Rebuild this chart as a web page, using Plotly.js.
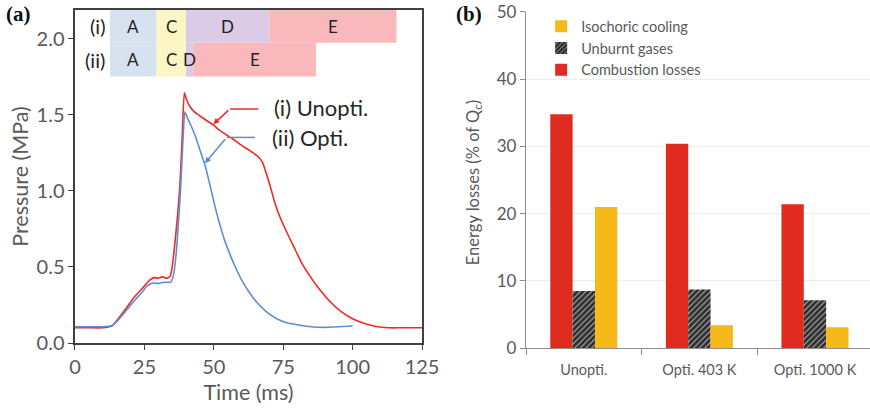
<!DOCTYPE html>
<html><head><meta charset="utf-8">
<script src="https://cdn.plot.ly/plotly-3.0.1.min.js"></script>
<style>html,body{margin:0;padding:0;background:#fff}#chart{width:870px;height:408px}</style>
</head><body><div id="chart"></div>
<script>
// ---- Panel (a): pressure traces ----
const timeUnopti = [0,5,10,12,13.5,16,18.5,21,24,27,28.5,30,31.5,33,34.3,35,36,37,37.8,38.6,39.4,40.2,41.4,43,44.5,46.2,48,49.8,52,54.6,57,60,63,66,67.5,69,70.5,72,74,76.5,79,82,85,88,92,96,100,104,108,113,118,125];
const pressureUnopti = [0.10,0.10,0.10,0.105,0.115,0.17,0.23,0.295,0.355,0.415,0.43,0.427,0.435,0.425,0.44,0.50,0.66,0.85,1.04,1.35,1.645,1.60,1.555,1.52,1.50,1.478,1.455,1.434,1.40,1.368,1.34,1.30,1.265,1.225,1.19,1.11,1.02,0.92,0.82,0.72,0.625,0.515,0.43,0.355,0.27,0.205,0.16,0.13,0.11,0.10,0.10,0.10];
const timeOpti = [0,5,10,12,13.5,16,18.5,21,24,26,28,30,32,34.5,35.5,36.5,37.3,38.1,38.8,39.6,40.5,41.4,43.2,45,46.8,48.6,50,52,54,56,58,60,62.5,65.4,69,72.7,76,80,85,89.4,95,100];
const pressureOpti = [0.107,0.107,0.107,0.11,0.115,0.16,0.215,0.27,0.33,0.375,0.395,0.392,0.40,0.40,0.45,0.60,0.80,1.04,1.30,1.52,1.48,1.445,1.368,1.27,1.17,1.04,0.93,0.79,0.67,0.575,0.49,0.415,0.34,0.27,0.205,0.16,0.135,0.12,0.107,0.103,0.107,0.112];
const phaseNames = ['A','C','D','E'];
const phaseEdgesUnopti = [12.6,29.4,40.0,70.0,115.8];
const phaseEdgesOpti = [12.6,29.4,40.0,42.6,86.8];
const phaseColors = ['#d7e2f0','#fcf6c4','#dccbe7','#f9b9bc'];
const rowLabels = ['(i)','(ii)'];
const curveLabels = ['(i) Unopti.','(ii) Opti.'];

// ---- Panel (b): energy losses ----
const barCategories = ['Unopti.','Opti. 403 K','Opti. 1000 K'];
const combustionLosses = [34.8,30.4,21.4];
const unburntGases = [8.5,8.7,7.1];
const isochoricCooling = [21.0,3.4,3.1];

const RED='#ee2a26', BLUE='#5b8fd2';
const GRAY='#595959';
const FONT='Lato, "Open Sans", sans-serif';

const traces = [
  {x: timeUnopti, y: pressureUnopti, type:'scatter', mode:'lines', line:{color:RED,width:1.6,shape:'spline',smoothing:0.5}, xaxis:'x', yaxis:'y', showlegend:false, hoverinfo:'skip'},
  {x: timeOpti, y: pressureOpti, type:'scatter', mode:'lines', line:{color:BLUE,width:1.6,shape:'spline',smoothing:0.5}, xaxis:'x', yaxis:'y', showlegend:false, hoverinfo:'skip'},
  {x: barCategories, y: combustionLosses, type:'bar', name:'Combustion losses', marker:{color:'#e02b20', line:{width:0}}, xaxis:'x2', yaxis:'y2'},
  {x: barCategories, y: unburntGases, type:'bar', name:'Unburnt gases', marker:{color:'#2e2e2e', line:{width:0}, pattern:{shape:'/', bgcolor:'#2e2e2e', fgcolor:'#b8b8b8', size:4, solidity:0.25}}, xaxis:'x2', yaxis:'y2'},
  {x: barCategories, y: isochoricCooling, type:'bar', name:'Isochoric cooling', marker:{color:'#f6b91a', line:{width:0}}, xaxis:'x2', yaxis:'y2'}
];

const shapes = [];
const annotations = [];
const rows = [
  {edges: phaseEdgesUnopti, y0:1.974, y1:2.19, yc:2.082},
  {edges: phaseEdgesOpti, y0:1.752, y1:1.974, yc:1.862}
];
rows.forEach((r, ri) => {
  phaseNames.forEach((p, i) => {
    shapes.push({type:'rect', xref:'x', yref:'y', x0:r.edges[i], x1:r.edges[i+1], y0:r.y0, y1:r.y1, fillcolor:phaseColors[i], line:{width:0}, layer:'below'});
    annotations.push({xref:'x', yref:'y', x:(r.edges[i]+r.edges[i+1])/2, y:r.yc, text:p, showarrow:false, font:{family:FONT,size:17,color:'#222'}});
  });
  annotations.push({xref:'x', yref:'y', x:r.edges[0]-1.0, y:r.yc, xanchor:'right', text:rowLabels[ri], showarrow:false, font:{family:FONT,size:20,color:'#222'}});
});

// leader lines for curve labels
shapes.push({type:'line', xref:'x', yref:'y', x0:66.0, x1:55.8, y0:1.539, y1:1.539, line:{color:RED,width:1.5}});
shapes.push({type:'line', xref:'x', yref:'y', x0:64.8, x1:54.6, y0:1.352, y1:1.352, line:{color:BLUE,width:1.5}});
annotations.push({xref:'x', yref:'y', axref:'x', ayref:'y', x:49.8, y:1.439, ax:55.8, ay:1.539, text:'', showarrow:true, arrowhead:2, arrowsize:0.8, arrowwidth:1.5, arrowcolor:RED});
annotations.push({xref:'x', yref:'y', axref:'x', ayref:'y', x:46.8, y:1.182, ax:54.6, ay:1.352, text:'', showarrow:true, arrowhead:2, arrowsize:0.8, arrowwidth:1.5, arrowcolor:BLUE});
annotations.push({xref:'x', yref:'y', x:70.9, y:1.546, xanchor:'left', text:curveLabels[0], showarrow:false, font:{family:FONT,size:22,color:'#262626'}});
annotations.push({xref:'x', yref:'y', x:70.2, y:1.352, xanchor:'left', text:curveLabels[1], showarrow:false, font:{family:FONT,size:22,color:'#262626'}});

// right panel y title
annotations.push({xref:'paper', yref:'paper', x:0.5437, y:0.551, textangle:-90, text:'Energy losses (% of Q<sub>c</sub>)', showarrow:false, font:{family:FONT,size:16.5,color:GRAY}});

// panel letters
annotations.push({xref:'paper', yref:'paper', x:0.005, y:1.0, xanchor:'left', yanchor:'top', text:'<b>(a)</b>', showarrow:false, font:{family:'"Liberation Serif", "DejaVu Serif", serif', size:21, color:'#111'}});
annotations.push({xref:'paper', yref:'paper', x:0.522, y:1.0, xanchor:'left', yanchor:'top', text:'<b>(b)</b>', showarrow:false, font:{family:'"Liberation Serif", "DejaVu Serif", serif', size:21, color:'#111'}});

const layout = {
  width:870, height:408,
  margin:{l:0,r:0,t:0,b:0},
  paper_bgcolor:'#fff', plot_bgcolor:'rgba(0,0,0,0)',
  font:{family:FONT, color:GRAY},
  barmode:'group', bargap:0.42, bargroupgap:0,
  xaxis:{domain:[0.0862,0.4851], range:[0,125], tickvals:[0,25,50,75,100,125], ticks:'outside', ticklen:5, tickcolor:'#404040', showline:true, linecolor:'#404040', linewidth:1.5, mirror:true, showgrid:false, zeroline:false, tickfont:{size:20,color:GRAY},
         title:{text:'Time (ms)', font:{size:21.5,color:GRAY}, standoff:8}},
  yaxis:{domain:[0.1593,0.9755], range:[0,2.19], tickvals:[0,0.5,1,1.5,2], ticktext:['0.0','0.5','1.0','1.5','2.0'], ticks:'outside', ticklen:5, tickcolor:'#404040', showline:true, linecolor:'#404040', linewidth:1.5, mirror:true, showgrid:false, zeroline:false, tickfont:{size:20,color:GRAY},
         title:{text:'Pressure (MPa)', font:{size:21.5,color:GRAY}, standoff:2}},
  xaxis2:{domain:[0.6046,1.0], type:'category', range:[-0.5,2.476], tickson:'boundaries', ticks:'outside', ticklen:6, tickcolor:'#8c8c8c', showline:true, linecolor:'#8c8c8c', linewidth:1.2, showgrid:false, zeroline:false, tickfont:{size:14.5,color:GRAY}, ticklabelstandoff:8, anchor:'y2'},
  yaxis2:{domain:[0.147,0.9706], range:[0,50], tickvals:[0,10,20,30,40,50], ticks:'outside', ticklen:5, tickcolor:'#8c8c8c', showline:true, linecolor:'#8c8c8c', linewidth:1.2, showgrid:true, gridcolor:'#ececec', zeroline:false, tickfont:{size:17,color:GRAY}, anchor:'x2'},
  legend:{x:0.622, y:0.975, xanchor:'left', yanchor:'top', traceorder:'reversed', bgcolor:'rgba(0,0,0,0)', font:{size:14.5,color:GRAY}, tracegroupgap:0, itemwidth:30},
  shapes:shapes, annotations:annotations
};

Plotly.newPlot('chart', traces, layout, {displayModeBar:false, staticPlot:true});
</script></body></html>
